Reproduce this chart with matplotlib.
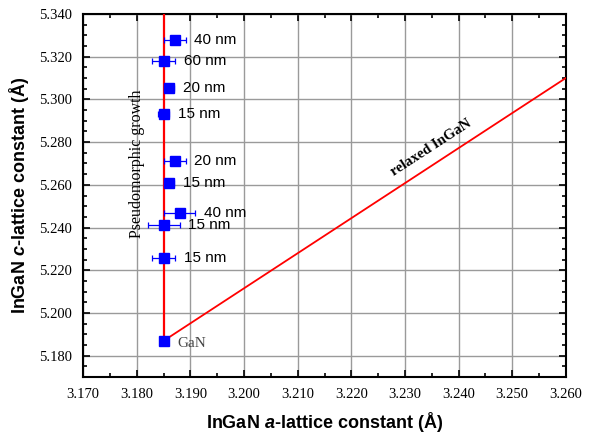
import matplotlib.pyplot as plt
from matplotlib.ticker import MultipleLocator, FormatStrFormatter

plt.rcParams['mathtext.fontset'] = 'custom'
plt.rcParams['mathtext.it'] = 'Liberation Sans:italic:bold'

# measured InGaN layers: a, c lattice constants, a error, thickness label
a_vals = [3.1871, 3.1850, 3.1860, 3.1850, 3.1871, 3.1860, 3.1880, 3.1850, 3.1850]
c_vals = [5.328, 5.318, 5.3055, 5.293, 5.271, 5.261, 5.247, 5.241, 5.226]
a_err = [0.0020, 0.0022, 0.0010, 0.0010, 0.0020, 0.0010, 0.0029, 0.0030, 0.0022]
labels = ['40 nm', '60 nm', '20 nm', '15 nm', '20 nm', '15 nm', '40 nm', '15 nm', '15 nm']

# GaN reference point
gan_a, gan_c = 3.185, 5.187

# pseudomorphic (vertical) and relaxed lines
pseudo_a = [3.185, 3.185]
pseudo_c = [5.187, 5.340]
relaxed_a = [3.185, 3.260]
relaxed_c = [5.187, 5.310]

fig = plt.figure(figsize=(5.9, 4.36), dpi=100)
ax = fig.add_axes([0.141, 0.135, 0.818, 0.833])

ax.grid(True, which='major', color='#9a9a9a', linewidth=1.0)
ax.set_axisbelow(True)

ax.plot(pseudo_a, pseudo_c, color='red', linewidth=1.6, zorder=3)
ax.plot(relaxed_a, relaxed_c, color='red', linewidth=1.3, zorder=3)

ax.errorbar(a_vals, c_vals, xerr=a_err, fmt='s', color='blue', ms=6.5,
            elinewidth=0.9, capsize=2.5, capthick=0.9, zorder=4)
ax.plot([gan_a], [gan_c], 's', color='blue', ms=6.5, zorder=4)

for a, c, lab, e in zip(a_vals, c_vals, labels, a_err):
    ax.text(a + 0.0017 + e * 0.95, c, lab, fontsize=11, family='Liberation Sans',
            va='center', ha='left', zorder=5)

ax.text(3.1876, 5.1856, 'GaN', fontsize=11, family='Liberation Serif',
        color='#444444', va='center', ha='left')
ax.text(3.1800, 5.2700, 'Pseudomorphic growth', fontsize=11.5, family='Liberation Serif',
        rotation=90, va='center', ha='center')
ax.text(3.2349, 5.2776, 'relaxed InGaN', fontsize=10.5, family='Liberation Serif',
        fontweight='bold', rotation=33, va='center', ha='center', rotation_mode='anchor')

ax.set_xlim(3.170, 3.260)
ax.set_ylim(5.170, 5.340)
ax.xaxis.set_major_locator(MultipleLocator(0.01))
ax.xaxis.set_minor_locator(MultipleLocator(0.005))
ax.yaxis.set_major_locator(MultipleLocator(0.02))
ax.yaxis.set_minor_locator(MultipleLocator(0.005))
ax.xaxis.set_major_formatter(FormatStrFormatter('%.3f'))
ax.yaxis.set_major_formatter(FormatStrFormatter('%.3f'))
ax.tick_params(which='both', direction='in', top=True, right=True, width=1.2)
ax.tick_params(which='major', length=5, labelsize=10.5, pad=8)
ax.tick_params(which='minor', length=3)
for lab in ax.get_xticklabels() + ax.get_yticklabels():
    lab.set_family('Liberation Serif')
for sp in ax.spines.values():
    sp.set_linewidth(1.5)

ax.set_xlabel(r'InGaN $\mathit{a}$-lattice constant (Å)', fontsize=13,
              fontweight='bold', family='Liberation Sans', labelpad=6)
ax.set_ylabel(r'InGaN $\mathit{c}$-lattice constant (Å)', fontsize=13,
              fontweight='bold', family='Liberation Sans', labelpad=6)

fig.savefig('out.png', dpi=100)
